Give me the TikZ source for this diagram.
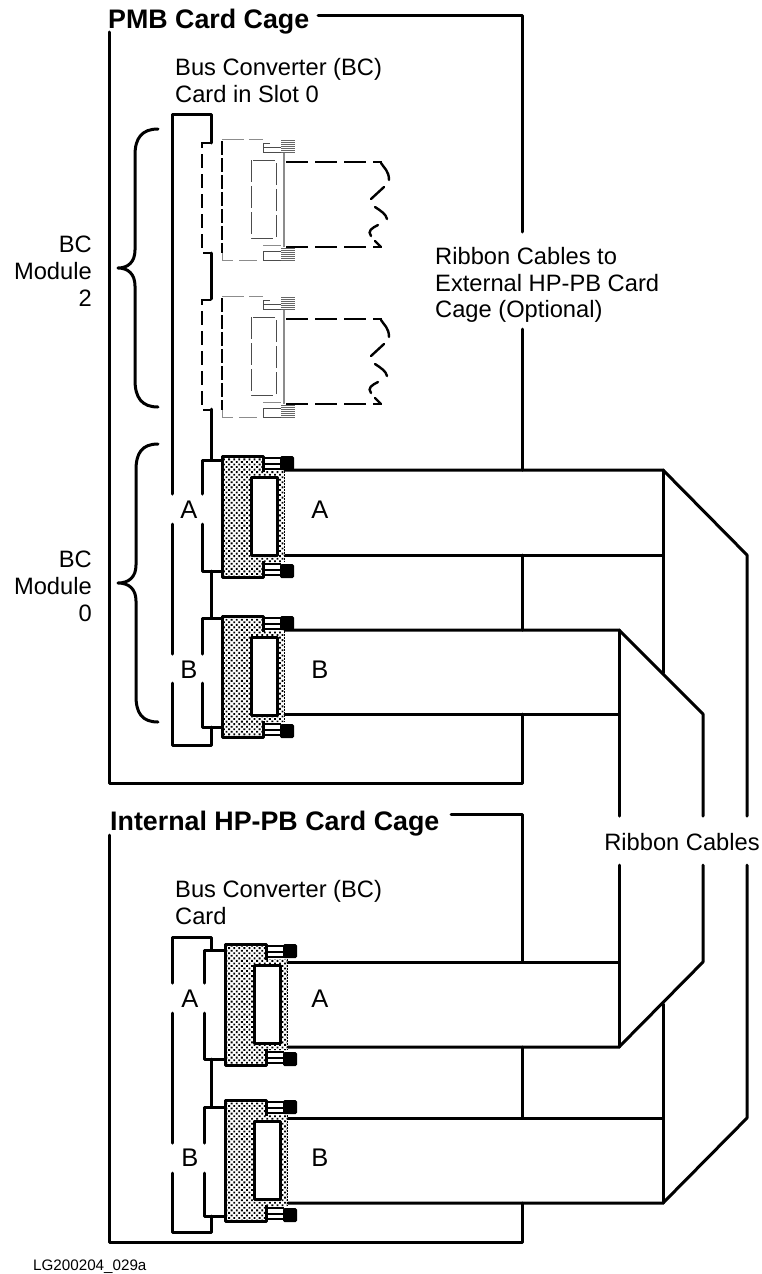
\documentclass[tikz,border=0pt]{standalone}
\usepackage{fontspec}
\setmainfont{Liberation Sans}
\usetikzlibrary{patterns.meta}
\tikzset{
  x=1pt,y=-1pt,
  heavy/.style={line width=3pt,line cap=round,line join=round},
  ghostblack/.style={line width=2pt,dash pattern=on 14pt off 6pt},
  ghostthin/.style={line width=1pt,black!70,dash pattern=on 22pt off 4pt},
  ghostgrey/.style={line width=1pt,black!45},
  cagetitle/.style={inner sep=0pt,anchor=base west,font=\fontsize{26.8}{30}\selectfont\bfseries},
  plain/.style={inner sep=0pt,font=\fontsize{23.7}{26.8}\selectfont},
  letter/.style={inner sep=0pt,font=\fontsize{25.5}{28}\selectfont},
  tiny/.style={inner sep=0pt,anchor=base west,font=\fontsize{15.2}{17}\selectfont}
}
\newcommand{\realconn}[2]{%
  \begin{scope}[shift={(#1,#2)}]
    \fill[white] (222,456) rectangle (284,577);
    \fill[pattern={Dots[distance=3.6pt,radius=1.3pt,angle=45]},pattern color=black]
      (222,456) -- (263,456) -- (263,471) -- (284,471) -- (284,562) -- (263,562) -- (263,577) -- (222,577) -- cycle;
    \draw[black,line width=1pt,dash pattern=on 1.5pt off 1.5pt] (284,471) -- (284,562);
    \draw[line width=3pt,line join=round] (263,472) -- (263,456.5) -- (222.5,456.5) -- (222.5,577) -- (263,577) -- (263,561);
    \draw[line width=3pt,line join=round,fill=white] (251,477) rectangle (277,555);
    \foreach \yy in {458,463.5,469,564,569.5,575}{\draw[line width=2pt] (263,\yy) -- (281,\yy);}
    \fill[black,rounded corners=1.5pt] (280,456) rectangle (294,470);
    \fill[black,rounded corners=1.5pt] (280,564) rectangle (294,578);
  \end{scope}}
\newcommand{\ghostconn}[1]{%
  \begin{scope}[shift={(0,#1)}]
    \draw[ghostblack] (211,143) -- (202,143) -- (202,253) -- (211,253);
    \draw[line width=2pt,dash pattern=on 14pt off 3pt] (222,141) -- (222,253);
    \draw[ghostgrey,dash pattern=on 22pt off 5pt] (222,139) -- (263,139);
    \draw[ghostgrey,dash pattern=on 18pt off 6pt] (222,253) -- (222,260) -- (263,260);
    \draw[ghostthin] (251,160) rectangle (276,238);
    \draw[ghostgrey,line width=1.5pt] (284,152) -- (284,247);
    \draw[line width=1pt,black!70] (263,143) -- (263,152) -- (281,152);
    \draw[line width=1pt,black!70] (263,147) -- (281,147);
    \draw[line width=1pt,black!70] (263,143) -- (270,143);
    \draw[line width=1pt,black!45] (263,245) -- (281,245);
    \draw[line width=1pt,black!70] (263,251) -- (281,251);
    \draw[line width=1pt,black!70] (263,251) -- (263,260) -- (281,260);
    \foreach \yy in {140,142,144,146,148,150,152,248,250,252,254,256,258,260}{\draw[line width=0.9pt,black!60] (281,\yy) -- (295,\yy);}
    \draw[line width=2pt,dash pattern=on 22pt off 7pt] (286,162) -- (382,162);
    \draw[line width=2pt,dash pattern=on 22pt off 7pt] (286,247) -- (382,247);
    \draw[line width=2.4pt,line cap=round] (381,163) .. controls (384,168) and (389,171) .. (389,180);
    \draw[line width=2.4pt,line cap=round] (384,187) -- (371,199);
    \draw[line width=2.4pt,line cap=round] (375,207) .. controls (381,211) and (386,214) .. (387,219);
    \draw[line width=2.4pt,line cap=round] (378,225) .. controls (372,228) and (367,231) .. (371,236);
    \draw[line width=2.4pt,line cap=round] (375,241) -- (381,247);
  \end{scope}}
\begin{document}
\begin{tikzpicture}
\useasboundingbox (0,0) rectangle (762,1274);
\fill[white] (0,0) rectangle (762,1274);

% PMB cage frame
\draw[heavy] (318,15) -- (522,15) -- (522,232);
\draw[heavy] (109,32) -- (109,783) -- (522,783) -- (522,714);
\draw[heavy] (522,630) -- (522,555);
\draw[heavy] (522,470) -- (522,329);
% Internal cage frame
\draw[heavy] (451,814) -- (522,814) -- (522,962);
\draw[heavy] (109,835) -- (109,1242) -- (522,1242) -- (522,1203);
\draw[heavy] (522,1118) -- (522,1047);

% Braces
\draw[heavy] (158,129) .. controls (142,129) and (135,138) .. (135,155) -- (135,250) .. controls (135,262) and (128,268) .. (118,268) .. controls (128,268) and (135,274) .. (135,286) -- (135,380) .. controls (135,398) and (142,407) .. (158,407);
\draw[heavy] (158,444) .. controls (142,444) and (136,453) .. (136,470) -- (136,565) .. controls (136,577) and (129,583) .. (118,583) .. controls (129,583) and (136,589) .. (136,601) -- (136,696) .. controls (136,713) and (142,722) .. (158,722);

% Upper BC card
\draw[heavy] (172,494) -- (172,114) -- (211,114) -- (211,143);
\draw[heavy] (172,524) -- (172,654);
\draw[heavy] (172,683) -- (172,745) -- (211,745) -- (211,727);
\draw[heavy] (211,409) -- (211,460);
\draw[heavy] (211,253) -- (211,299);
\draw[heavy] (222,460) -- (202,460) -- (202,494);
\draw[heavy] (202,524) -- (202,571) -- (222,571);
\draw[heavy] (211,571) -- (211,618);
\draw[heavy] (222,618) -- (202,618) -- (202,654);
\draw[heavy] (202,683) -- (202,727) -- (222,727);

% Ghost connectors
\ghostconn{0}
\ghostconn{157}

% Real connectors, upper
\realconn{0}{0}
\realconn{0}{160}
% Real connectors, lower
\realconn{3}{488}
\realconn{3}{644}

% Lower BC card
\draw[heavy] (172,983) -- (172,937) -- (211,937) -- (211,950);
\draw[heavy] (172,1013) -- (172,1143);
\draw[heavy] (172,1173) -- (172,1232) -- (211,1232) -- (211,1216);
\draw[heavy] (225,950) -- (204,950) -- (204,983);
\draw[heavy] (204,1013) -- (204,1059) -- (225,1059);
\draw[heavy] (211,1059) -- (211,1107);
\draw[heavy] (225,1107) -- (204,1107) -- (204,1143);
\draw[heavy] (204,1173) -- (204,1216) -- (225,1216);

% Ribbons
\draw[heavy] (285,470) -- (663,470) -- (747,555) -- (747,816);
\draw[heavy] (285,555) -- (663,555);
\draw[heavy] (663,470) -- (663,673);
\draw[heavy] (285,630) -- (619,630) -- (703,714) -- (703,816);
\draw[heavy] (285,714) -- (619,714);
\draw[heavy] (619,630) -- (619,816);
\draw[heavy] (619,865) -- (619,1047);
\draw[heavy] (703,865) -- (703,962) -- (619,1047) -- (288,1047);
\draw[heavy] (288,962) -- (619,962);
\draw[heavy] (747,865) -- (747,1118) -- (663,1203) -- (288,1203);
\draw[heavy] (288,1118) -- (663,1118);
\draw[heavy] (663,1004) -- (663,1203);

% Texts
\node[cagetitle] (pmb) at (108,28) {PMB Card Cage};
\node[cagetitle] (hpb) at (110,830) {Internal HP-PB Card Cage};
\node[plain,anchor=north west,align=left] (bc1) at (175,58) {Bus Converter (BC)\\Card in Slot 0};
\node[plain,anchor=north west,align=left] (bc2) at (175,880) {Bus Converter (BC)\\Card};
\node[plain,anchor=north east,align=right] (m2) at (92,236) {BC\\Module\\2};
\node[plain,anchor=north east,align=right] (m0) at (92,551) {BC\\Module\\0};
\node[plain,anchor=north west,align=left] (rc) at (435,247) {Ribbon Cables to\\External HP-PB Card\\Cage (Optional)};
\node[plain] (rcb) at (682,842) {Ribbon Cables};
\node[letter] (a1) at (189,510) {A};
\node[letter] (a2) at (320,510) {A};
\node[letter] (b1) at (189,670) {B};
\node[letter] (b2) at (320,670) {B};
\node[letter] (a3) at (190,999) {A};
\node[letter] (a4) at (320,999) {A};
\node[letter] (b3) at (190,1158) {B};
\node[letter] (b4) at (320,1158) {B};
\node[tiny] (lg) at (33,1270) {LG200204\_029a};
\end{tikzpicture}
\end{document}
